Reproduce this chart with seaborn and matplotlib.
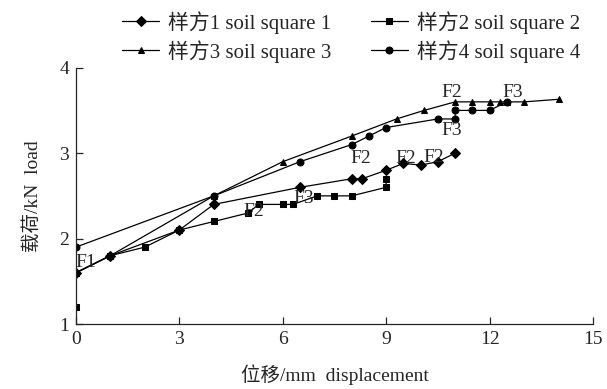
import pandas as pd
import matplotlib.pyplot as plt
import seaborn as sns

# Load-displacement curves
x1 = [0, 1, 3, 4, 6.5, 8, 8.3, 9, 9.5, 10, 10.5, 11]
y1 = [1.6, 1.8, 2.1, 2.4, 2.6, 2.7, 2.7, 2.8, 2.88, 2.86, 2.9, 3.0]

x2 = [0, 0, 1, 2, 3, 4, 5, 5.3, 6, 6.3, 7, 7.5, 8, 9, 9]
y2 = [1.2, 1.6, 1.8, 1.9, 2.1, 2.2, 2.3, 2.4, 2.4, 2.4, 2.5, 2.5, 2.5, 2.6, 2.7]

x3 = [0, 1, 4, 6, 8, 9.3, 10.1, 11, 11.5, 12, 12.3, 12.5, 13, 14]
y3 = [1.6, 1.8, 2.5, 2.9, 3.2, 3.4, 3.5, 3.6, 3.6, 3.6, 3.6, 3.6, 3.6, 3.63]

x4 = [0, 4, 6.5, 8, 8.5, 9, 10.5, 11, 11, 11.5, 12, 12.5]
y4 = [1.9, 2.5, 2.9, 3.1, 3.2, 3.3, 3.4, 3.4, 3.5, 3.5, 3.5, 3.6]

labels = ["样方1 soil square 1", "样方2 soil square 2",
          "样方3 soil square 3", "样方4 soil square 4"]

# failure stage marks (text, x, y)
marks = [("F1", 0.29, 1.72), ("F2", 5.15, 2.32), ("F3", 6.6, 2.47),
         ("F2", 8.26, 2.94), ("F2", 9.57, 2.94), ("F2", 10.38, 2.95),
         ("F3", 10.9, 3.26), ("F2", 10.9, 3.71), ("F3", 12.67, 3.71)]

frames = []
for lab, xs, ys in zip(labels, [x1, x2, x3, x4], [y1, y2, y3, y4]):
    frames.append(pd.DataFrame({"x": xs, "y": ys, "series": lab}))
df = pd.concat(frames, ignore_index=True)

sns.set_style("ticks")
fonts = ['Liberation Serif', 'Noto Sans CJK SC']
plt.rcParams['font.family'] = fonts
plt.rcParams['xtick.direction'] = 'in'
plt.rcParams['ytick.direction'] = 'in'

fig = plt.figure(figsize=(6.07, 3.89), dpi=100)
ax = fig.add_axes([0.125, 0.167, 0.852, 0.659])

sns.lineplot(data=df, x="x", y="y", hue="series", style="series",
             palette=["black"] * 4, markers=["D", "s", "^", "o"],
             dashes=False, sort=False, estimator=None, linewidth=0.9,
             markersize=5, markeredgecolor="black", ax=ax, legend=True)

for t, xx, yy in marks:
    ax.text(xx, yy, t, ha="center", va="center", fontsize=14, family=fonts)

ax.set_xlim(0, 15)
ax.set_ylim(1, 4)
ax.set_xticks([0, 3, 6, 9, 12, 15])
ax.set_yticks([1, 2, 3, 4])
ax.tick_params(labelsize=14, length=5, width=0.9, pad=5)
sns.despine(ax=ax)
for s in ["left", "bottom"]:
    ax.spines[s].set_linewidth(0.9)

ax.set_xlabel("位移/mm  displacement", fontsize=14, labelpad=12)
ax.set_ylabel("载荷/kN  load", fontsize=14, labelpad=12)

handles, labs = ax.get_legend_handles_labels()
ax.get_legend().remove()
# row-wise order: 1 2 / 3 4
order = [0, 2, 1, 3]
fig.legend([handles[i] for i in order], [labs[i] for i in order], ncol=2,
           loc="upper left", bbox_to_anchor=(0.17, 1.02), frameon=False,
           fontsize=15, handlelength=1.8, handletextpad=0.4,
           columnspacing=1.9, labelspacing=0.3)

plt.savefig("out.png", dpi=100)
plt.close()
